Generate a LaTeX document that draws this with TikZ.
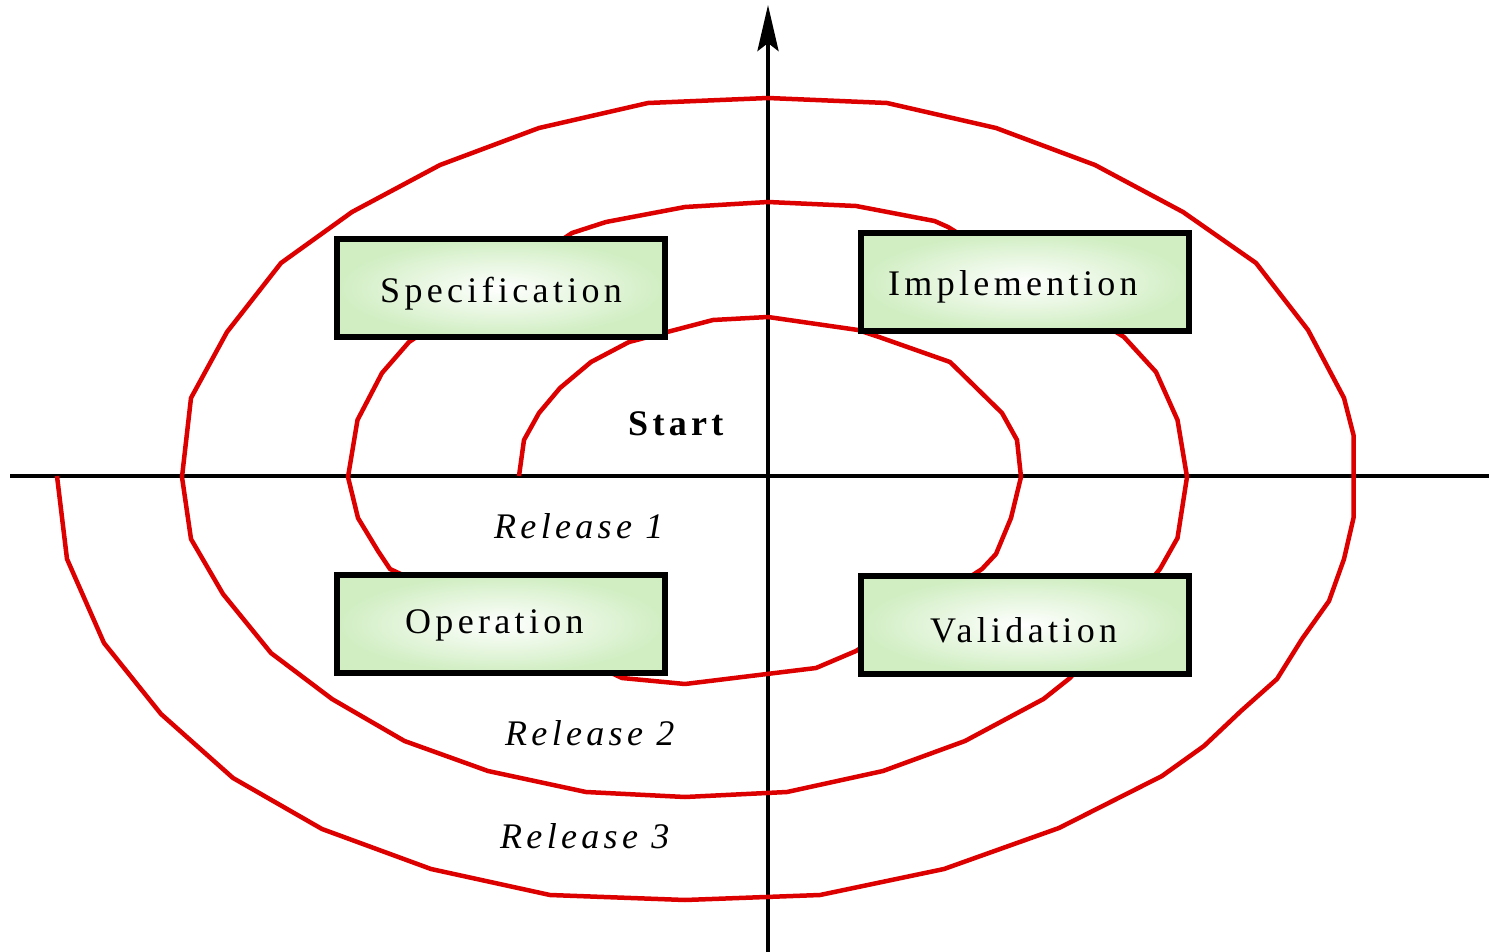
\documentclass[tikz,border=0pt]{standalone}
\usepackage{fontspec}
\setmainfont{Liberation Serif}
\newfontfamily\spaced[LetterSpace=12]{Liberation Serif}
\usetikzlibrary{arrows.meta}
\definecolor{spiralred}{RGB}{220,0,0}
\definecolor{boxgreen}{RGB}{208,238,194}
\tikzset{
  axis/.style={line width=4.5pt, black},
  spiral/.style={line width=4.5pt, spiralred, line join=round},
  phasebox/.style={draw=black, line width=6pt, inner sep=0pt,
    minimum width=328pt, minimum height=98pt,
    inner color=white, outer color=boxgreen},
  boxtext/.style={inner sep=0pt, anchor=base west,
    font=\spaced\fontsize{36pt}{40pt}\selectfont},
  reltext/.style={inner sep=0pt, anchor=base west,
    font=\spaced\itshape\fontsize{36pt}{40pt}\selectfont},
  starttext/.style={inner sep=0pt, anchor=base west,
    font=\spaced\bfseries\fontsize{36pt}{40pt}\selectfont}
}
\begin{document}
\begin{tikzpicture}[x=1pt,y=-1pt]
\useasboundingbox (0,0) rectangle (1489,952);
% axes
\coordinate (xl) at (10,476);
\coordinate (xr) at (1489,476);
\coordinate (yb) at (768,952);
\coordinate (yt) at (768,5);
\draw[axis] (xl) -- (xr);
\draw[axis, -{Stealth[length=46pt,width=21pt,inset=8pt]}] (yb) -- (yt);
% spiral
\draw[spiral] (519,476) -- (524,440) -- (539,413) -- (560,388) -- (591,362)
  -- (629,342) -- (713,320) -- (768,317) -- (858,330) -- (879,337)
  -- (950,362) -- (1002,413) -- (1017,440) -- (1021,477) -- (1011,518)
  -- (996,554) -- (982,569) -- (856,651) -- (816,668) -- (685,684)
  -- (622,678) -- (390,569) -- (378,551) -- (358,518) -- (348,477)
  -- (357.5,420) -- (382,373) -- (409,342) -- (572,233) -- (606,222)
  -- (685,207) -- (768,202) -- (856,206) -- (934.5,221) -- (948,227)
  -- (1124,337) -- (1156,372) -- (1177.5,420) -- (1187,477) -- (1177.5,538)
  -- (1160,569) -- (1070,678) -- (1043.5,699) -- (965,741) -- (883,771)
  -- (787,792) -- (685,797) -- (586,792) -- (488,771) -- (404.5,741)
  -- (332,699) -- (271,653) -- (223,594) -- (191,539) -- (182,477)
  -- (191,398) -- (227,332) -- (281,263) -- (352,212) -- (440,165)
  -- (539,128) -- (648,103) -- (768,98) -- (887,103) -- (996,128)
  -- (1095,165) -- (1183,212) -- (1256,263) -- (1308,330) -- (1344,398)
  -- (1353.5,435) -- (1353.5,518) -- (1344,559) -- (1329,601) -- (1302,639)
  -- (1277,679) -- (1241,711) -- (1204,746) -- (1162,776) -- (1059,828)
  -- (944,869) -- (820,895) -- (685,900) -- (550,895) -- (431,869)
  -- (322,829) -- (233,778) -- (161,714) -- (104,643) -- (67,559) -- (57,476);
% boxes
\node[phasebox] (spec) at (501,288) {};
\node[phasebox] (impl) at (1025,282) {};
\node[phasebox] (oper) at (501,624) {};
\node[phasebox] (vali) at (1025,624.5) {};
\node[boxtext] (specT) at (380,302) {Specification};
\node[boxtext] (implT) at (888,295) {Implemention};
\node[boxtext] (operT) at (405,633) {Operation};
\node[boxtext] (valiT) at (930,642) {Validation};
% labels
\node[starttext] (start) at (628,435) {Start};
\node[reltext] (rel1) at (494,538) {Release 1};
\node[reltext] (rel2) at (505,745) {Release 2};
\node[reltext] (rel3) at (500,848) {Release 3};
\end{tikzpicture}
\end{document}
